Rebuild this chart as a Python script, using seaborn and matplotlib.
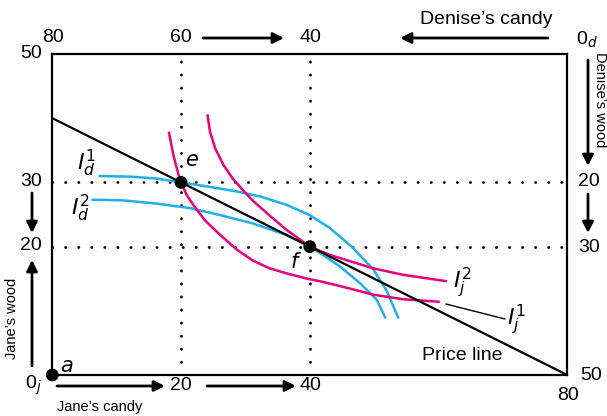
import matplotlib
matplotlib.use("Agg")
import matplotlib.pyplot as plt
import seaborn as sns
import pandas as pd

sns.set_theme(style="white")
plt.rcParams['font.family'] = ['Liberation Sans', 'DejaVu Sans']

# ---- data ----
price_candy = [0, 80]
price_wood = [40, 0]

ij1_candy = [18.1, 18.8, 19.6, 20.0, 20.9, 21.9, 23.7, 26.1, 28.7, 31.2, 33.8, 36.5, 39.6,
             41.6, 45.7, 49.9, 54.5, 60.2]
ij1_wood = [37.9, 34.3, 31.2, 30.0, 28.0, 26.5, 24.1, 21.8, 19.5, 17.8, 16.6, 15.8, 15.0,
            14.6, 13.6, 12.5, 11.8, 11.4]

ij2_candy = [24.1, 24.5, 25.3, 26.6, 28.1, 29.7, 31.2, 33.8, 36.4, 40.0, 43.1, 45.7, 49.9,
             54.5, 61.3]
ij2_wood = [40.6, 37.9, 35.3, 32.7, 30.5, 28.7, 27.1, 24.8, 22.6, 20.0, 18.7, 17.9, 16.6,
            15.6, 14.6]

id1_candy = [7.2, 12.1, 16.2, 20.0, 24.5, 28.6, 32.3, 36.4, 40.0, 43.1, 46.5, 49.9, 51.9, 53.8]
id1_wood = [31.0, 30.9, 30.6, 30.0, 29.3, 28.6, 27.8, 26.5, 24.9, 22.9, 20.0, 16.4, 13.2, 8.8]

id2_candy = [6.1, 11.0, 16.2, 21.4, 26.1, 31.2, 36.4, 40.0, 41.6, 44.7, 47.8, 50.4, 51.8]
id2_wood = [27.3, 27.2, 26.7, 26.0, 24.9, 23.6, 21.8, 20.0, 19.0, 16.9, 14.3, 11.7, 8.8]

pt_names = ["e", "f", "a"]
pt_candy = [20, 40, 0]
pt_wood = [30, 20, 0]

grid_candy = [20, 40]
grid_wood = [30, 20]

bottom_ticks = ["0", "20", "40", "80"]
top_ticks = ["80", "60", "40"]
left_ticks = ["50", "30", "20"]
right_ticks = ["20", "30", "50"]

PINK = "#e5007d"
BLUE = "#1fb0e8"

W, H = 607, 416
fig = plt.figure(figsize=(W / 100, H / 100), dpi=100)
L, R, T, B = 52.3, 567.3, 54, 375
ax = fig.add_axes([L / W, 1 - B / H, (R - L) / W, (B - T) / H])
ax.set_xlim(0, 80)
ax.set_ylim(0, 50)
for s in ax.spines.values():
    s.set_color("black")
    s.set_linewidth(1.6)
ax.set_xticks([])
ax.set_yticks([])

# dotted guides
for c in grid_candy:
    ax.plot([c, c], [0, 50], color="black", lw=2, ls=(0, (0.1, 4.6)),
            dash_capstyle="round", zorder=1)
for w in grid_wood:
    ax.plot([0, 80], [w, w], color="black", lw=2, ls=(0, (0.1, 4.6)),
            dash_capstyle="round", zorder=1)

def curve(xs, ys, color, lw=1.8):
    df = pd.DataFrame({"x": xs, "y": ys})
    sns.lineplot(data=df, x="x", y="y", sort=False, estimator=None,
                 color=color, lw=lw, ax=ax, zorder=3,
                 solid_joinstyle="round", solid_capstyle="butt")

curve(id1_candy, id1_wood, BLUE)
curve(id2_candy, id2_wood, BLUE)
curve(ij1_candy, ij1_wood, PINK)
curve(ij2_candy, ij2_wood, PINK)
curve(price_candy, price_wood, "black", lw=1.6)

pts = pd.DataFrame({"x": pt_candy, "y": pt_wood})
sns.scatterplot(data=pts, x="x", y="y", s=85, color="black", ax=ax,
                zorder=6, clip_on=False, edgecolor="none")
ax.set_xlabel("")
ax.set_ylabel("")

def P(px, py):
    return (px / W, 1 - py / H)

FS = 14
def t(px, py, s, fs=FS, **kw):
    fig.text(*P(px, py), s, fontsize=fs, ha=kw.pop("ha", "center"),
             va=kw.pop("va", "center"), color="black", **kw)

def arrow(x0, y0, x1, y1):
    ax.annotate("", xy=P(x1, y1), xytext=P(x0, y0), xycoords="figure fraction",
                textcoords="figure fraction",
                arrowprops=dict(arrowstyle="-|>", lw=2, color="black",
                                mutation_scale=16, shrinkA=0, shrinkB=0))

# bottom axis
t(33, 385, r"$\mathregular{0}_{\mathit{j}}$", fs=FS)
t(181, 386, bottom_ticks[1])
t(310, 386, bottom_ticks[2])
t(568, 396, bottom_ticks[3])
arrow(57, 386, 165, 386)
arrow(207, 386, 296, 386)
t(57, 407, "Jane\u2019s candy", fs=10.5, ha="left")

# top axis
t(53, 38, top_ticks[0])
t(181, 38, top_ticks[1])
t(310, 38, top_ticks[2])
arrow(203, 38, 284, 38)
arrow(548, 38, 400, 38)
t(486, 19, "Denise\u2019s candy", fs=14)
t(587, 40, r"$\mathregular{0}_{\mathit{d}}$", fs=FS)

# left axis
t(31, 54, left_ticks[0])
t(31, 182, left_ticks[1])
t(31, 246, left_ticks[2])
arrow(32, 193, 32, 233)
arrow(32, 366, 32, 260)
t(12, 318, "Jane\u2019s wood", fs=10.5, rotation=90)

# right axis
t(589, 182, right_ticks[0])
t(589, 247, right_ticks[1])
t(591, 376, right_ticks[2])
arrow(588, 60, 588, 166)
arrow(588, 194, 588, 233)
t(600, 100, "Denise\u2019s wood", fs=10.5, rotation=270)

# curve labels
t(192, 160, r"$e$", fs=15)
t(296, 262, r"$f$", fs=15)
t(67, 366, r"$a$", fs=15)
t(86, 163, r"$\mathit{I}_{d}^{1}$", fs=16)
t(80, 208, r"$\mathit{I}_{d}^{2}$", fs=16)
t(462, 283, r"$\mathit{I}_{j}^{2}$", fs=16)
t(516, 320, r"$\mathit{I}_{j}^{1}$", fs=16)
ax.annotate("", xy=P(505, 319), xytext=P(446, 304), xycoords="figure fraction",
            textcoords="figure fraction",
            arrowprops=dict(arrowstyle="-", lw=1, color="black",
                            shrinkA=0, shrinkB=0))
t(462, 355, "Price line", fs=14)

fig.savefig("out.png", dpi=100)
